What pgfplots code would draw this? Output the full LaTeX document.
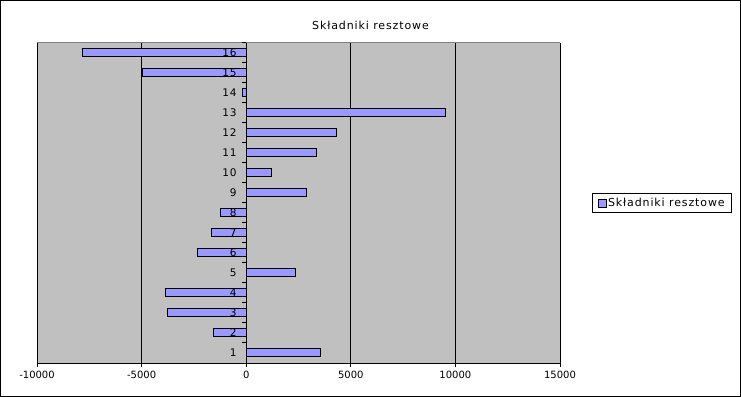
\documentclass[border=0pt]{standalone}
\usepackage{fontspec}
\setmainfont{DejaVu Sans}
\newfontfamily\widefont[LetterSpace=8]{DejaVu Sans}
\usepackage{pgfplots}
\pgfplotsset{compat=1.18}
\definecolor{barblue}{HTML}{9999FF}
\definecolor{plotgray}{HTML}{C0C0C0}
\begin{document}
\fontsize{10bp}{12bp}\selectfont
\begin{tikzpicture}
\useasboundingbox (0,0) rectangle (741bp,397bp);
\fill[white] (0,0) rectangle (741bp,397bp);
\draw[line width=1bp] (0.5bp,0.5bp) rectangle (740.5bp,396.5bp);
\node[font=\widefont\fontsize{11bp}{13bp}\selectfont] at (370.5bp,372bp) {Składniki resztowe};
\begin{axis}[
  axis on top,
  at={(37bp,34bp)}, anchor=south west,
  scale only axis, width=523bp, height=320bp,
  xmin=-10000, xmax=15000, ymin=0.5, ymax=16.5,
  axis background/.style={fill=plotgray},
  axis x line*=bottom, axis y line*=center,
  axis line style={black, line width=1bp},
  scaled x ticks=false,
  xtick={-10000,-5000,0,5000,10000,15000},
  xticklabels={-10000,-5000,0,5000,10000,15000},
  ytick={0.5,1.5,...,16.5},
  yticklabels={},
  extra y ticks={1,2,...,16},
  extra y tick labels={1,2,3,4,5,6,7,8,9,10,11,12,13,14,15,16},
  extra y tick style={major tick length=0pt, yticklabel style={anchor=east, xshift=-6bp, font=\widefont\fontsize{10.5bp}{12bp}\selectfont}},
  tick align=outside,
  major tick length=4bp,
  ytick style={black, line width=1bp},
  xtick style={black, line width=1bp},
  ticklabel style={font=\fontsize{10bp}{12bp}\selectfont},
  xticklabel style={yshift=-1bp},
  legend style={at={(1,0.5)}, anchor=west, xshift=32bp, draw=black, line width=1bp,
    inner xsep=5bp, inner ysep=3bp, font=\widefont\fontsize{11bp}{13bp}\selectfont, fill=white},
  legend image code/.code={\draw[#1, line width=0.6bp] (0bp,-4bp) rectangle (8bp,4bp);},
  legend cell align=left,
  clip=false,
]
\draw[gray, line width=1bp] (axis cs:-10000,16.5) -- (axis cs:15000,16.5);
\foreach \g in {-10000,-5000,5000,10000,15000}{
  \edef\temp{\noexpand\draw[black, line width=1bp] (axis cs:\g,0.5) -- (axis cs:\g,16.5);}
  \temp
}
\addplot[xbar, bar width=8bp, fill=barblue, draw=black, line width=1bp] coordinates {
(3567,1) (-1545,2) (-3740,3) (-3836,4) (2373,5) (-2310,6) (-1640,7) (-1210,8)
(2897,9) (1225,10) (3375,11) (4330,12) (9536,13) (-175,14) (-4952,15) (-7817,16)
};
\addlegendentry{Składniki resztowe}
\end{axis}
\end{tikzpicture}
\end{document}
